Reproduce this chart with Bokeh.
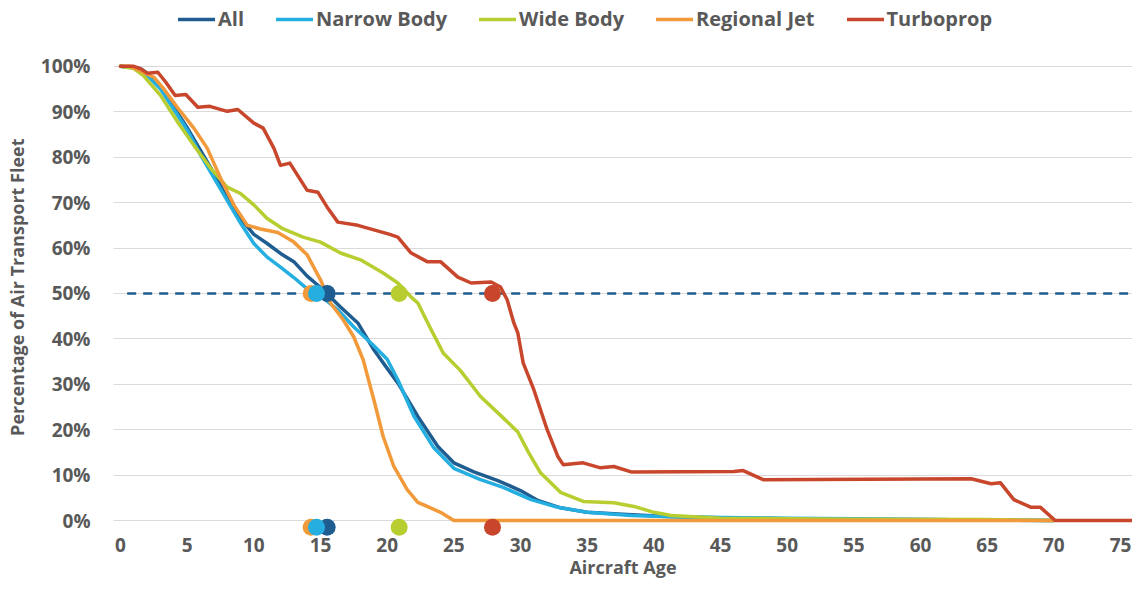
from bokeh.plotting import figure
from bokeh.models import FixedTicker, PrintfTickFormatter, Legend, LegendItem, Range1d
from bokeh.embed import file_html
from bokeh.resources import INLINE

# ---- data ----
series_names = ["All", "Narrow Body", "Wide Body", "Regional Jet", "Turboprop"]
series_colors = ["#1F5D91", "#25AEE0", "#B8CD2F", "#F2993A", "#C8462B"]

all_age = [0, 1.5, 2, 3, 4, 5, 6, 7, 8, 9, 10, 11, 12, 13, 14, 15, 16.5, 17.8, 19, 20, 20.8,
           22.3, 23.8, 25, 26.5, 28.3, 30, 31.3, 33, 35, 38, 41, 45, 50, 55, 60, 65, 70]
all_pct = [100, 99.5, 98.5, 95.5, 91, 86.5, 81.5, 76.5, 71, 66.5, 63, 61, 58.8, 57, 53.8, 51.3,
           47, 43.5, 37.6, 33.5, 30.3, 22.9, 16.3, 12.7, 10.7, 8.8, 6.6, 4.4, 2.8, 1.8, 1.3,
           0.9, 0.6, 0.4, 0.3, 0.2, 0.1, 0]

narrow_age = [0, 1.5, 2, 3, 4, 5, 6, 7, 8, 9, 10, 11, 12, 13, 14, 15.2, 16.3, 17.5, 19, 20,
              20.8, 22, 23.5, 25, 27, 28.7, 30.8, 32.8, 35, 38.3, 42, 50, 55, 60, 70]
narrow_pct = [100, 99.5, 98, 95, 90.5, 86, 80.5, 75.5, 70.5, 65.5, 61, 58, 55.8, 53.5, 51, 49,
              46.4, 42.6, 38.5, 35.5, 31, 23, 16, 11.5, 9, 7.3, 4.6, 2.9, 1.8, 1.1, 0.8, 0.5,
              0.4, 0.2, 0]

wide_age = [0, 1, 1.7, 3, 4.3, 5.5, 6.75, 8, 9, 10, 11, 12.2, 13.7, 15, 16.5, 18, 19.7, 20.8,
            21.8, 22.3, 23.3, 24.2, 25.5, 27, 28.7, 29.8, 30.6, 31.5, 33, 34.7, 37, 38.5, 40,
            41.3, 42, 45, 50, 55, 65, 70]
wide_pct = [100, 99.5, 98, 93.6, 87.7, 82.6, 77.6, 73.4, 72, 69.5, 66.5, 64.2, 62.4, 61.3, 58.9,
            57.4, 54.5, 52.3, 49.2, 47.9, 42, 36.9, 33, 27.3, 22.6, 19.5, 15, 10.5, 6.2, 4.2,
            3.9, 3.1, 1.8, 1.1, 1.0, 0.5, 0.4, 0.3, 0.2, 0]

regional_age = [0, 0.75, 1.7, 2.5, 3.2, 4.3, 5.5, 6.5, 7.5, 8.5, 9.5, 10.5, 11.8, 13, 14, 15,
                15.75, 16.7, 17.5, 18.2, 19, 19.7, 20.5, 21.5, 22.3, 23, 24, 25, 70]
regional_pct = [100, 100, 98.7, 97.6, 95.2, 90.8, 86.4, 82, 75.4, 69.5, 65, 64.2, 63.4, 61.3,
                58.5, 53, 47.9, 44.2, 40.4, 35.4, 26.6, 18.5, 11.9, 6.8, 4, 3.1, 1.8, 0, 0]

turbo_age = [0, 1, 1.5, 2, 2.8, 3.4, 4.1, 4.9, 5.8, 6.7, 8, 8.8, 10, 10.7, 11.5, 12, 12.7, 14,
             14.8, 15.5, 16.3, 17.8, 19, 20.2, 20.8, 21.8, 23, 24, 25.3, 26.3, 27.8, 28.5, 29,
             29.5, 29.8, 30.2, 31, 32, 32.8, 33.2, 34.7, 36, 37, 38.3, 46, 46.7, 48.2, 63.8,
             65.3, 66, 67, 68.3, 69, 70.1, 76.5]
turbo_pct = [100, 100, 99.5, 98.5, 98.7, 96.5, 93.6, 93.8, 91, 91.2, 90.1, 90.5, 87.5, 86.4, 82,
             78.2, 78.7, 72.7, 72.3, 69, 65.7, 65, 64, 63, 62.4, 58.9, 57, 57, 53.6, 52.3, 52.5,
             51.4, 48.6, 43.5, 41.3, 34.7, 28.8, 20, 14.1, 12.3, 12.7, 11.6, 11.9, 10.7, 10.8,
             11.0, 9, 9.2, 8.1, 8.3, 4.6, 2.9, 2.9, 0, 0]

series_ages = [all_age, narrow_age, wide_age, regional_age, turbo_age]
series_pcts = [all_pct, narrow_pct, wide_pct, regional_pct, turbo_pct]

# median ages (dots), drawn at the 50% level and just below the 0% line
median_age = [15.5, 14.7, 20.9, 14.3, 27.9]
median_level = 50
baseline_marker_level = -1.5
dash_x = [0.5, 76.5]

x_ticks = list(range(0, 80, 5))
y_ticks = list(range(0, 110, 10))

TEXT = "#595959"
FONT = "Open Sans"

p = figure(width=1132, height=581, output_backend="svg", toolbar_location=None,
           x_range=Range1d(-0.525, 75.9), y_range=Range1d(-3.52, 114.5),
           min_border_left=113, min_border_right=0, min_border_top=0, min_border_bottom=44)
p.outline_line_color = None
p.background_fill_color = "white"

# axes
p.xaxis.ticker = FixedTicker(ticks=x_ticks)
p.yaxis.ticker = FixedTicker(ticks=y_ticks)
p.yaxis.formatter = PrintfTickFormatter(format="%d%%")
for ax in (p.xaxis, p.yaxis):
    ax.axis_line_color = None
    ax.major_tick_line_color = None
    ax.minor_tick_line_color = None
    ax.major_tick_out = 0
    ax.major_tick_in = 0
    ax.major_label_text_color = TEXT
    ax.major_label_text_font = FONT
    ax.major_label_text_font_style = "bold"
    ax.major_label_text_font_size = "19px"
    ax.axis_label_text_color = TEXT
    ax.axis_label_text_font = FONT
    ax.axis_label_text_font_style = "bold"
    ax.axis_label_text_font_size = "18px"
p.xaxis.axis_label = "Aircraft Age"
# trailing no-break spaces nudge the rotated title down to where the reference has it
p.yaxis.axis_label = "Percentage of Air Transport Fleet" + "\u00a0" * 8
p.xaxis.major_label_standoff = 1
p.xaxis.axis_label_standoff = 0
p.yaxis.major_label_standoff = 23
p.yaxis.axis_label_standoff = 9

p.xgrid.grid_line_color = None
p.ygrid.grid_line_color = "#DADADA"
p.ygrid.grid_line_width = 1

# dashed 50% line
p.line(dash_x, [median_level, median_level], line_color="#1F5D91", line_width=2.5,
       line_dash="9 7")

renderers = []
for name, color, ages, pcts in zip(series_names, series_colors, series_ages, series_pcts):
    r = p.line(ages, pcts, line_color=color, line_width=3.5, line_join="round", line_cap="round")
    renderers.append(r)

# median dots
dot_order = [0, 3, 1, 2, 4]
for i in dot_order:
    p.scatter([median_age[i]], [median_level], size=17, fill_color=series_colors[i],
              line_color=None)
    p.scatter([median_age[i]], [baseline_marker_level], size=17, fill_color=series_colors[i],
              line_color=None)

legend = Legend(items=[LegendItem(label=n, renderers=[r]) for n, r in zip(series_names, renderers)],
                orientation="horizontal", location=(65, 504))
legend.background_fill_alpha = 0
legend.border_line_color = None
legend.label_text_color = TEXT
legend.label_text_font = FONT
legend.label_text_font_style = "bold"
legend.label_text_font_size = "20px"
legend.glyph_width = 37
legend.glyph_height = 20
legend.label_standoff = 3
legend.spacing = 32
legend.padding = 0
legend.margin = 0
p.add_layout(legend)

open("out.html", "w").write(file_html(p, INLINE))
